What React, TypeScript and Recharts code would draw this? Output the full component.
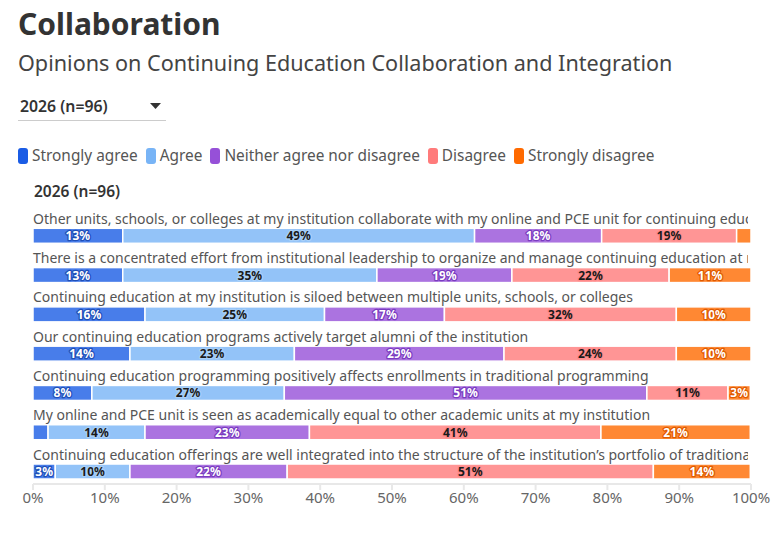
import React from "react";
import { BarChart, Bar, XAxis, YAxis, LabelList } from "recharts";

const FONT = "'Noto Sans', sans-serif";

const questions = [
  "Other units, schools, or colleges at my institution collaborate with my online and PCE unit for continuing education",
  "There is a concentrated effort from institutional leadership to organize and manage continuing education at my institution",
  "Continuing education at my institution is siloed between multiple units, schools, or colleges",
  "Our continuing education programs actively target alumni of the institution",
  "Continuing education programming positively affects enrollments in traditional programming",
  "My online and PCE unit is seen as academically equal to other academic units at my institution",
  "Continuing education offerings are well integrated into the structure of the institution\u2019s portfolio of traditional programs",
];

const stronglyAgree = [12.5, 12.5, 15.6, 13.5, 8.2, 2.1, 3.1];
const agree = [49.0, 35.4, 25.0, 22.9, 26.8, 13.5, 10.4];
const neither = [17.7, 18.8, 16.7, 29.2, 50.5, 22.9, 21.9];
const disagree = [18.8, 21.9, 32.3, 24.0, 11.3, 40.6, 51.0];
const stronglyDisagree = [2.1, 11.4, 10.4, 10.4, 3.1, 20.8, 13.5];

const tickValues = [0, 10, 20, 30, 40, 50, 60, 70, 80, 90, 100];

const seriesNames = ["Strongly agree", "Agree", "Neither agree nor disagree", "Disagree", "Strongly disagree"];
const seriesKeys = ["sa", "a", "n", "d", "sd"];
const seriesColors = ["#1a5ce5", "#78b4f6", "#9650d8", "#ff7b7b", "#ff6a00"];
const labelFill = ["#ffffff", "#1a1a1a", "#ffffff", "#1a1a1a", "#ffffff"];
const labelHalo = ["#1f4fb8", "#a9d0f8", "#7a3cc0", "#ff8a8a", "#e05a00"];

const data = questions.map((q, i) => ({
  q,
  sa: stronglyAgree[i],
  a: agree[i],
  n: neither[i],
  d: disagree[i],
  sd: stronglyDisagree[i],
}));

const OFF = 7.3;
const CLIP_RIGHT = 748;

const makeShape = (color: string) => (props: any) => {
  const { x, y, width, height } = props;
  if (!width || width <= 0) return <g />;
  return (
    <rect
      x={x}
      y={y + OFF}
      width={width}
      height={height}
      fill={color}
      fillOpacity={0.8}
      stroke="#ffffff"
      strokeWidth={1.5}
    />
  );
};

const makeValueLabel = (si: number) => (props: any) => {
  const { x, y, width, height, value } = props;
  const v = Math.round(Number(value));
  if (v < 3 || width < 14) return null;
  return (
    <text
      x={x + width / 2}
      y={y + OFF + height / 2}
      textAnchor="middle"
      dominantBaseline="central"
      fontFamily={FONT}
      fontSize={12}
      fontWeight={700}
      fill={labelFill[si]}
      stroke={labelHalo[si]}
      strokeWidth={2.5}
      paintOrder="stroke"
      strokeLinejoin="round"
    >
      {v}%
    </text>
  );
};

const questionLabel = (props: any) => {
  const { y, value, index } = props;
  const id = `qclip-${index}`;
  return (
    <g>
      <defs>
        <clipPath id={id}>
          <rect x={0} y={y + OFF - 30} width={CLIP_RIGHT} height={40} />
        </clipPath>
      </defs>
      <text
        x={33}
        y={y + OFF - 4.5}
        fontFamily={FONT}
        fontSize={14}
        fill="#555555"
        clipPath={`url(#${id})`}
      >
        {value}
      </text>
    </g>
  );
};

export default function App() {
  return (
    <div
      style={{
        position: "absolute",
        left: 0,
        top: 0,
        width: 780,
        height: 535,
        background: "#ffffff",
        fontFamily: FONT,
        overflow: "hidden",
      }}
    >
      <div style={{ position: "absolute", left: 18, top: 3, fontSize: 30, fontWeight: 700, color: "#333333", whiteSpace: "nowrap" }}>
        Collaboration
      </div>
      <div style={{ position: "absolute", left: 18, top: 48, fontSize: 21.6, color: "#444444", whiteSpace: "nowrap" }}>
        Opinions on Continuing Education Collaboration and Integration
      </div>
      <div style={{ position: "absolute", left: 20, top: 95, fontSize: 15.8, fontWeight: 600, color: "#333333", whiteSpace: "nowrap" }}>
        2026 (n=96)
      </div>
      <svg style={{ position: "absolute", left: 150, top: 103 }} width={12} height={7}>
        <polygon points="0,0 11,0 5.5,6" fill="#333333" />
      </svg>
      <div style={{ position: "absolute", left: 18, top: 120, width: 148, height: 1, background: "#cccccc" }} />

      <div
        style={{
          position: "absolute",
          left: 18,
          top: 145,
          display: "flex",
          alignItems: "center",
          whiteSpace: "nowrap",
          fontSize: 15.4,
          color: "#555555",
        }}
      >
        {seriesNames.map((name, i) => (
          <div key={name} style={{ display: "flex", alignItems: "center", marginRight: 8 }}>
            <span
              style={{
                display: "inline-block",
                width: 10,
                height: 16,
                borderRadius: 3,
                background: seriesColors[i],
                marginRight: 4,
              }}
            />
            <span>{name}</span>
          </div>
        ))}
      </div>

      <div style={{ position: "absolute", left: 34, top: 180, fontSize: 15.5, fontWeight: 600, color: "#333333", whiteSpace: "nowrap" }}>
        2026 (n=96)
      </div>

      <div style={{ position: "absolute", left: 0, top: 0 }}>
        <BarChart
          width={780}
          height={535}
          data={data}
          layout="vertical"
          margin={{ top: 209, right: 29, bottom: 21, left: 33 }}
          barSize={15}
        >
          <XAxis
            type="number"
            domain={[0, 100]}
            ticks={tickValues}
            interval={0}
            allowDataOverflow
            tickFormatter={(v: number) => `${v}%`}
            axisLine={{ stroke: "#e8e8e8", strokeWidth: 2 }}
            tickLine={{ stroke: "#e8e8e8", strokeWidth: 2 }}
            tickSize={6}
            tick={{ fill: "#666666", fontSize: 15, fontFamily: FONT }}
            height={30}
          />
          <YAxis type="category" dataKey="q" hide />
          {seriesKeys.map((k, si) => (
            <Bar
              key={k}
              dataKey={k}
              name={seriesNames[si]}
              stackId="s"
              fill={seriesColors[si]}
              isAnimationActive={false}
              shape={makeShape(seriesColors[si])}
            >
              {si === 0 ? <LabelList dataKey="q" content={questionLabel} /> : null}
              <LabelList dataKey={k} content={makeValueLabel(si)} />
            </Bar>
          ))}
        </BarChart>
      </div>
    </div>
  );
}
